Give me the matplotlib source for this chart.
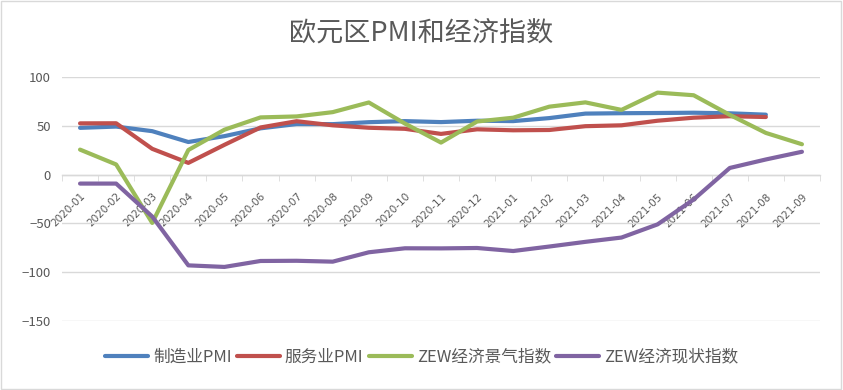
import matplotlib
matplotlib.use('Agg')
import matplotlib.pyplot as plt
from matplotlib.patches import Rectangle

plt.rcParams['font.family'] = ['Noto Sans CJK SC', 'DejaVu Sans']

months = ['2020-01', '2020-02', '2020-03', '2020-04', '2020-05', '2020-06', '2020-07',
          '2020-08', '2020-09', '2020-10', '2020-11', '2020-12', '2021-01', '2021-02',
          '2021-03', '2021-04', '2021-05', '2021-06', '2021-07', '2021-08', '2021-09']

# PMI series end at 2021-08
manufacturing_pmi = [47.9, 49.2, 44.5, 33.4, 39.4, 47.4, 51.8, 51.7, 53.7, 54.8, 53.8,
                     55.2, 54.8, 57.9, 62.5, 62.9, 63.1, 63.4, 62.8, 61.4]
services_pmi = [52.5, 52.6, 26.4, 12.0, 30.5, 48.3, 54.7, 50.5, 48.0, 46.9, 41.7,
                46.4, 45.4, 45.7, 49.6, 50.5, 55.2, 58.3, 59.8, 59.0]
zew_sentiment = [25.6, 10.4, -49.5, 25.2, 46.0, 58.6, 59.6, 64.0, 73.9, 52.3, 32.8,
                 54.4, 58.3, 69.6, 74.0, 66.3, 84.0, 81.3, 61.2, 42.7, 31.1]
zew_current = [-9.2, -9.2, -43.0, -93.0, -94.6, -88.5, -88.3, -89.2, -79.6, -75.5, -75.6,
               -75.2, -78.3, -73.7, -68.9, -64.5, -51.0, -25.5, 6.8, 15.5, 23.4]

series = [
    ('制造业PMI', manufacturing_pmi, '#4F81BD'),
    ('服务业PMI', services_pmi, '#C0504D'),
    ('ZEW经济景气指数', zew_sentiment, '#9BBB59'),
    ('ZEW经济现状指数', zew_current, '#8064A2'),
]

gray = '#595959'

fig = plt.figure(figsize=(8.43, 3.90), dpi=100)
ax = fig.add_axes([62 / 843, 69 / 390, 758 / 843, 244 / 390])

x = list(range(len(months)))
for name, vals, color in series:
    ax.plot(x[:len(vals)], vals, color=color, lw=3.0, label=name,
            solid_joinstyle='round', solid_capstyle='round', zorder=3)

ax.set_xlim(-0.5, len(months) - 0.5)
ax.set_ylim(-150, 100)
ax.set_yticks([-150, -100, -50, 0, 50, 100])
ax.grid(axis='y', color='#d9d9d9', lw=1.0, zorder=0)
ax.set_axisbelow(True)

for s in ['left', 'right', 'top']:
    ax.spines[s].set_visible(False)
ax.spines['bottom'].set_position(('data', 0))
ax.spines['bottom'].set_color('#d9d9d9')
ax.spines['bottom'].set_linewidth(1.0)

ax.tick_params(axis='y', length=0, labelsize=9.5, labelcolor=gray, pad=8)
ax.set_xticks([i - 0.5 for i in range(len(months) + 1)], minor=True)
ax.set_xticks(x)
ax.set_xticklabels(months, rotation=45, ha='right', rotation_mode='anchor',
                   fontsize=7.5, color=gray, family='DejaVu Sans')
ax.tick_params(axis='x', which='major', length=0, pad=12)
ax.tick_params(axis='x', which='minor', length=4, color='#d9d9d9', direction='out')
for lbl in ax.get_xticklabels():
    lbl.set_zorder(4)

fig.text(0.5, 0.915, '欧元区PMI和经济指数', ha='center', va='center',
         fontsize=19.5, color=gray)

fig.legend(loc='center', bbox_to_anchor=(0.5, 0.085), ncol=4, frameon=False,
           fontsize=12, handlelength=2.6, handletextpad=0.3, columnspacing=0.3,
           labelcolor=gray)

fig.patches.append(Rectangle((0.001, 0.002), 0.997, 0.995, transform=fig.transFigure,
                             fill=False, edgecolor='#d9d9d9', lw=1))

fig.savefig('out.png', dpi=100)
